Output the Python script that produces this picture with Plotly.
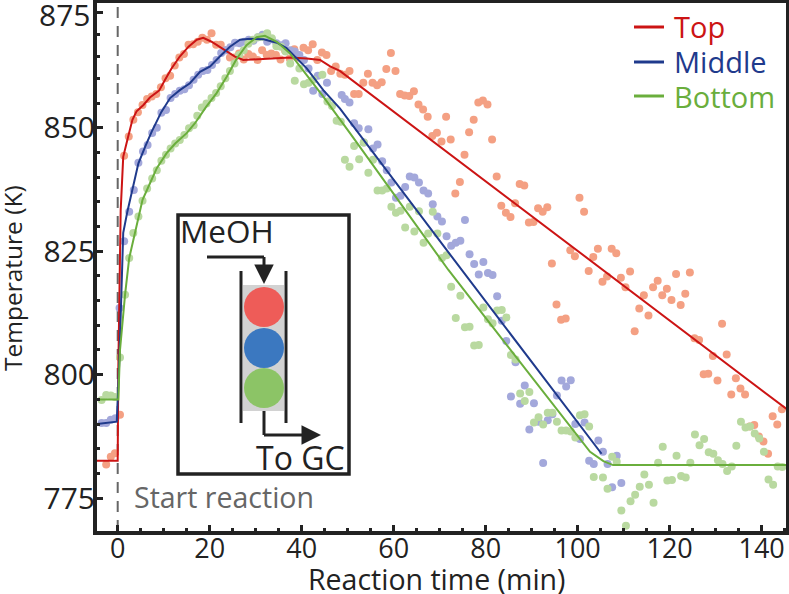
import plotly.graph_objects as go

W, H = 789, 594
L, R, T, B = 97, 786, 3, 531
FONT = "Open Sans"
DARK = "#222222"

# measured points
top_x = [-2.5, -1.5, -0.6, 0.5, 1.4, 2.4, 3.4, 4.4, 5.4, 6.4, 7.4, 8.4, 9.4, 10.4, 11.4, 12.4, 13.4, 14.4, 15.4, 16.4,
         17.4, 18.4, 19.4, 20.4, 21.4, 22.4, 23.4, 24.4, 25.4, 26.4, 27.4, 28.4, 29.4, 30.4, 31.4, 32.4, 33.4, 34.4,
         35.4, 36.4, 37.4, 38.4, 39.4, 40.4, 41.4, 42.4, 43.4, 44.4, 45.4, 46.4, 47.4, 48.4, 49.4, 50.4, 51.4, 52.4,
         53.4, 54.4, 55.4, 56.4, 57.4, 58.4, 59.4, 60.4, 61.4, 62.4, 63.4, 64.4, 65.4, 66.4, 67.4, 68.4, 69.4, 70.4,
         71.4, 72.4, 73.4, 74.4, 75.4, 76.4, 77.4, 78.4, 79.4, 80.4, 81.4, 82.4, 83.4, 84.4, 85.4, 86.4, 87.4, 88.4,
         89.4, 90.4, 91.4, 92.4, 93.4, 94.4, 95.4, 96.4, 97.4, 98.4, 99.4, 100.4, 101.4, 102.4, 103.4, 104.4, 105.4,
         106.4, 107.4, 108.4, 109.4, 110.4, 111.4, 112.4, 113.4, 114.4, 115.4, 116.4, 117.4, 118.4, 119.4, 120.4,
         121.4, 122.4, 123.4, 124.4, 125.4, 126.4, 127.4, 128.4, 129.4, 130.4, 131.4, 132.4, 133.4, 134.4, 135.4,
         136.4, 137.4, 138.4, 139.4, 140.4, 141.4, 142.4, 143.4, 144.4]
top_y = [781.8, 783.4, 784.1, 791.9, 844.3, 848.2, 851.6, 853.1, 854.6, 855.8, 856.3, 856.8, 858.2, 860.0, 860.5, 862.6,
         864.2, 864.9, 866.8, 866.9, 867.4, 868.2, 867.8, 869.1, 866.8, 866.8, 865.7, 864.2, 864.2, 865.0, 863.8, 864.9,
         864.4, 863.7, 865.7, 864.7, 865.0, 864.7, 863.8, 865.6, 864.0, 865.9, 864.2, 866.2, 865.7, 866.9, 863.7, 865.2,
         864.7, 861.5, 862.4, 860.9, 860.7, 861.5, 856.8, 856.8, 859.1, 860.9, 859.1, 858.6, 859.2, 861.9, 865.1, 861.5,
         856.8, 856.5, 856.4, 857.4, 854.7, 853.7, 852.2, 848.3, 849.0, 847.2, 852.2, 847.6, 836.7, 839.0, 844.5, 849.1,
         851.6, 855.1, 855.5, 854.7, 847.6, 840.1, 834.2, 832.8, 831.9, 834.7, 838.6, 838.3, 830.8, 830.9, 833.7, 833.0,
         833.9, 822.5, 814.2, 811.1, 811.4, 825.2, 824.0, 835.8, 833.0, 821.0, 823.8, 825.5, 818.8, 819.9, 825.5, 824.6,
         819.6, 817.7, 820.9, 808.8, 813.4, 816.1, 812.0, 817.7, 819.0, 816.1, 817.4, 815.1, 820.4, 814.1, 816.4, 820.7,
         807.4, 807.0, 800.1, 800.2, 803.8, 798.8, 810.3, 804.1, 796.0, 799.3, 797.2, 796.0, 789.5, 789.8, 787.5, 786.5,
         784.0, 791.6, 789.9, 793.0]

mid_x = [-3.5, -2.5, -1.5, -0.5, 0.4, 1.4, 2.5, 3.5, 4.5, 5.5, 6.5, 7.5, 8.5, 9.5, 10.5, 11.5, 12.5, 13.5, 14.5, 15.5,
         16.5, 17.5, 18.5, 19.5, 20.5, 21.5, 22.5, 23.5, 24.5, 25.5, 26.5, 27.5, 28.5, 29.5, 30.5, 31.5, 32.5, 33.5,
         34.5, 35.5, 36.5, 37.5, 38.5, 39.5, 40.5, 41.5, 42.5, 43.5, 44.5, 45.5, 48.7, 49.4, 50.4, 51.4, 52.4, 53.5,
         54.5, 55.5, 56.5, 57.5, 58.5, 59.5, 60.5, 61.5, 62.5, 63.5, 64.5, 65.5, 66.5, 67.5, 68.5, 69.5, 70.5, 71.5,
         72.5, 73.5, 74.5, 75.5, 76.5, 77.5, 78.5, 79.5, 80.5, 81.5, 82.5, 83.5, 84.5, 85.5, 86.5, 87.5, 88.5, 89.5,
         90.5, 91.5, 92.5, 93.5, 94.5, 95.5, 96.5, 97.5, 98.5, 99.5, 100.5, 101.5, 102.5, 103.5, 104.5, 105.5, 106.5,
         107.5, 108.5, 109.5]
mid_y = [790.2, 790.2, 790.9, 791.2, 813.5, 827.0, 833.0, 837.4, 842.9, 845.2, 846.5, 848.9, 850.0, 853.0, 853.6, 856.0,
         856.8, 857.5, 857.8, 858.6, 859.7, 860.7, 861.5, 861.7, 862.7, 863.7, 865.1, 865.7, 866.3, 867.2, 867.1, 867.4,
         867.8, 867.6, 868.3, 868.8, 867.4, 867.9, 867.1, 866.7, 867.1, 865.7, 865.4, 864.7, 863.7, 862.0, 857.5, 860.5,
         856.8, 859.1, 856.6, 855.8, 855.1, 850.9, 849.9, 847.0, 849.7, 845.8, 846.6, 843.2, 841.4, 838.9, 835.8, 836.2,
         838.0, 840.1, 839.9, 838.9, 837.3, 836.7, 834.5, 832.0, 831.0, 828.0, 826.1, 826.7, 827.1, 831.3, 824.4, 822.4,
         820.3, 822.8, 820.6, 820.2, 815.9, 810.9, 806.8, 795.6, 802.5, 794.1, 797.8, 788.9, 794.2, 790.5, 782.1, 790.8,
         792.0, 795.8, 798.8, 797.6, 798.9, 790.0, 787.0, 790.3, 782.6, 781.9, 786.7, 784.4, 781.9, 777.2, 783.6, 778.1]

bot_x = [-3.5, -2.5, -1.5, -0.6, 0.5, 1.6, 2.5, 3.4, 4.5, 5.4, 6.4, 7.5, 8.5, 9.5, 10.5, 11.5, 12.5, 13.5, 14.5, 15.5,
         16.5, 17.3, 18.3, 19.3, 20.4, 21.4, 22.4, 23.4, 24.4, 25.4, 26.4, 27.4, 28.4, 29.4, 30.5, 31.5, 32.5, 33.5,
         34.5, 35.5, 36.5, 37.5, 38.5, 39.5, 40.5, 41.5, 42.5, 44.5, 45.6, 46.6, 47.6, 48.5, 49.4, 50.4, 51.4, 52.5,
         53.5, 54.5, 55.5, 56.5, 57.5, 58.5, 59.5, 60.5, 61.5, 62.5, 63.5, 64.5, 65.5, 66.5, 67.5, 68.5, 69.5, 70.5,
         71.5, 72.5, 73.5, 74.5, 75.5, 76.5, 77.5, 78.5, 79.5, 80.5, 81.5, 82.5, 83.5, 84.5, 85.5, 86.5, 87.5, 88.5,
         89.5, 90.5, 91.5, 92.5, 93.5, 94.5, 95.5, 96.5, 97.5, 98.5, 99.5, 100.5, 101.5, 102.5, 103.5, 105.5, 106.5,
         107.5, 108.5, 109.5, 110.5, 111.5, 112.5, 113.5, 114.5, 115.5, 116.5, 117.5, 118.5, 119.5, 120.5, 121.5,
         122.5, 123.5, 124.5, 125.5, 126.5, 127.5, 128.5, 129.5, 130.5, 131.5, 132.5, 133.5, 134.5, 135.5, 136.5,
         137.5, 138.5, 139.5, 140.5, 141.5, 142.5, 143.5, 144.5]
bot_y = [794.9, 795.9, 795.8, 795.5, 803.5, 816.2, 823.6, 828.7, 832.0, 835.2, 837.7, 839.7, 841.4, 843.3, 844.5, 845.8,
         846.8, 847.5, 848.5, 849.9, 850.5, 852.4, 854.1, 854.9, 856.0, 857.0, 858.4, 860.0, 861.5, 863.0, 864.7, 865.7,
         867.0, 867.8, 868.3, 868.4, 869.1, 868.1, 866.5, 866.4, 865.4, 863.0, 859.5, 862.0, 858.8, 859.1, 859.7, 860.7,
         855.3, 854.4, 851.4, 851.2, 843.5, 842.1, 846.3, 843.6, 847.0, 840.9, 843.5, 837.3, 837.3, 837.7, 834.0, 832.8,
         833.2, 829.8, 834.0, 829.0, 833.1, 826.7, 828.6, 833.0, 828.6, 823.6, 824.2, 817.8, 811.5, 816.0, 809.6, 809.7,
         805.9, 806.0, 813.6, 811.2, 810.4, 813.0, 813.1, 811.6, 804.0, 803.1, 796.2, 794.7, 796.5, 790.3, 791.4, 789.9,
         792.3, 792.3, 790.5, 788.7, 788.7, 788.5, 787.3, 791.8, 792.0, 789.5, 779.3, 779.2, 776.9, 783.4, 782.4, 772.5,
         769.4, 774.4, 775.7, 777.3, 779.8, 777.7, 774.1, 782.2, 785.4, 778.6, 778.7, 783.6, 779.5, 779.2, 782.2, 787.9,
         785.7, 787.0, 784.3, 784.0, 782.7, 781.9, 780.5, 781.4, 785.6, 790.5, 789.3, 789.5, 788.1, 787.1, 784.4, 778.8,
         777.7, 781.4, 781.3]

# model curves
top_line_x = [-4.5, 0.0, 0.05, 0.14, 0.65, 1.2, 2.2, 3.2, 4.1, 5.6, 7.0, 9.0, 10.3, 11.7, 13.5, 15.4, 17.2, 18.6, 20.4,
              23.0, 25.5, 27.3, 30.2, 33.1, 37.5, 41.1, 44.0, 46.2, 48.3, 145.5]
top_line_y = [782.6, 782.6, 790.0, 801.7, 833.3, 844.1, 847.9, 851.6, 853.3, 854.6, 856.1, 857.5, 859.7, 862.0, 864.4,
              866.4, 867.8, 868.2, 867.4, 865.9, 864.4, 863.7, 863.8, 864.0, 864.2, 864.0, 863.7, 862.4, 861.5, 793.0]
mid_line_x = [-4.5, -0.2, 0.36, 1.2, 2.1, 4.5, 6.0, 7.4, 9.5, 11.4, 13.5, 15.7, 17.9, 20.1, 22.2, 24.4, 26.6, 28.8,
              31.7, 34.6, 36.7, 38.9, 41.1, 44.7, 48.3, 74.8, 105.2]
mid_line_y = [790.0, 790.5, 803.0, 828.7, 833.0, 842.8, 846.2, 849.2, 853.2, 856.0, 857.6, 859.0, 861.3, 862.4, 864.4,
              866.4, 867.8, 868.0, 867.9, 867.2, 866.1, 864.0, 862.0, 857.6, 853.9, 821.2, 784.0]
bot_line_x = [-4.5, 0.14, 0.5, 1.6, 2.5, 5.4, 7.0, 8.5, 10.6, 12.5, 15.0, 16.8, 19.3, 21.5, 23.7, 25.9, 28.0, 30.2, 32.0,
              34.6, 37.5, 41.1, 44.7, 50.5, 71.9, 84.6, 99.0, 102.7, 105.6, 107.7, 145.5]
bot_line_y = [795.0, 795.0, 805.0, 816.2, 823.6, 835.4, 838.7, 841.8, 844.8, 846.8, 848.9, 850.9, 854.3, 857.0, 860.3,
              864.0, 866.7, 868.3, 868.6, 867.4, 865.0, 860.7, 856.3, 848.9, 821.2, 806.0, 788.8, 784.4, 782.5, 781.7, 781.7]

x_ticks = [0, 20, 40, 60, 80, 100, 120, 140]
x_minor = [5, 10, 15, 25, 30, 35, 45, 50, 55, 65, 70, 75, 85, 90, 95, 105, 110, 115, 125, 130, 135, 145]
# the top of the source axis is squeezed: its "875" tick sits at 873.4 on the scale of the other ticks,
# plotly drops that label so close to the page edge, so the text is placed as an annotation
y_ticks = [775, 800, 825, 850, 873.4]
y_labels = ["775", "800", "825", "850", " "]
y_minor = [780, 785, 790, 795, 805, 810, 815, 820, 830, 835, 840, 845, 854.9, 860, 864.5, 868.9]

series_names = ["Top", "Middle", "Bottom"]
line_colors = ["#cc1414", "#1f3a8c", "#6aae3c"]
dot_colors = ["#f4a083", "#a3a8db", "#b9d9a0"]


def seg(x0, y0, x1, y1, color=DARK, width=3):
    return dict(type="line", xref="paper", yref="paper", x0=(x0 - L) / (R - L), x1=(x1 - L) / (R - L),
                y0=(B - y0) / (B - T), y1=(B - y1) / (B - T), line=dict(color=color, width=width))


def label(x, y, text, size, color=DARK, anchor="left", angle=0):
    return dict(xref="paper", yref="paper", x=(x - L) / (R - L), y=(B - y) / (B - T), text=text, showarrow=False,
                xanchor=anchor, yanchor="middle", xshift=-3, textangle=angle,
                font=dict(family=FONT, size=size, color=color))


def head(x, y, ax, ay):
    # arrow tip at x,y, tail offset in pixels
    return dict(xref="paper", yref="paper", x=(x - L) / (R - L), y=(B - y) / (B - T), axref="pixel", ayref="pixel",
                ax=ax, ay=ay, text="", showarrow=True, arrowhead=2, arrowsize=1.3, arrowwidth=3, arrowcolor=DARK)


def blob(x0, y0, x1, y1, kind, color):
    return dict(type=kind, xref="paper", yref="paper", x0=(x0 - L) / (R - L), x1=(x1 - L) / (R - L),
                y0=(B - y0) / (B - T), y1=(B - y1) / (B - T), fillcolor=color, line=dict(width=0))


fig = go.Figure()

for xs, ys, c in zip([top_x, mid_x, bot_x], [top_y, mid_y, bot_y], dot_colors):
    fig.add_trace(go.Scatter(x=xs, y=ys, mode="markers", marker=dict(size=8, color=c), showlegend=False))

for xs, ys, c in zip([top_line_x, mid_line_x, bot_line_x], [top_line_y, mid_line_y, bot_line_y], line_colors):
    fig.add_trace(go.Scatter(x=xs, y=ys, mode="lines", line=dict(color=c, width=2), showlegend=False))

shapes = [
    dict(type="line", xref="x", yref="paper", x0=0, x1=0, y0=0, y1=1, layer="below",
         line=dict(color="#666666", width=2, dash="11px,8px")),
    # inset: reactor sketch
    dict(type="rect", xref="paper", yref="paper", x0=(178 - L) / (R - L), x1=(349 - L) / (R - L),
         y0=(B - 474) / (B - T), y1=(B - 215) / (B - T), line=dict(color=DARK, width=3.5), fillcolor="white"),
    blob(243, 285, 284, 411, "rect", "#d2d2d2"),
    blob(244, 287, 284, 327, "circle", "#ee5c58"),
    blob(244, 328, 284, 368, "circle", "#3b78c0"),
    blob(244, 368, 284, 408, "circle", "#8cc466"),
    seg(241, 271, 241, 423),
    seg(286, 271, 286, 423),
    seg(207, 257, 264, 257),
    seg(264, 257, 264, 272),
    seg(264, 411, 264, 435),
    seg(264, 435, 308, 435),
]
for name_y, c in zip([27, 62, 96], line_colors):
    shapes.append(seg(634, name_y, 664, name_y, c, 3))

annotations = [
    label(181, 231, "MeOH", 31.5),
    label(257, 457, "To GC", 32),
    label(135, 497, "Start reaction", 28.5, "#666666"),
    label(95, 14, "875", 30, anchor="right"),
    label(439, 579, "Reaction time (min)", 28.5, anchor="center"),
    label(16, 278, "Temperature (K)", 24.5, anchor="center", angle=-90),
    head(264, 284, 0, -18),
    head(321, 435, -18, 0),
]
for name, name_y, c in zip(series_names, [27, 62, 96], line_colors):
    annotations.append(label(675, name_y, name, 29, c))

fig.update_layout(
    width=W, height=H, margin=dict(l=L, r=W - R, t=T, b=H - B),
    paper_bgcolor="white", plot_bgcolor="white", showlegend=False,
    font=dict(family=FONT, color=DARK),
    shapes=shapes, annotations=annotations,
    xaxis=dict(range=[-4.5, 145.3], showgrid=False, zeroline=False, showline=True, mirror=True, automargin=False,
               linecolor=DARK, linewidth=4, ticks="inside", ticklen=6, tickwidth=3, tickcolor=DARK,
               tickvals=x_ticks, tickfont=dict(size=27, family=FONT), ticklabelstandoff=-9,
               minor=dict(tickmode="array", tickvals=x_minor, ticks="inside", ticklen=3, tickwidth=3, tickcolor=DARK)),
    yaxis=dict(range=[768.36, 875.24], showgrid=False, zeroline=False, showline=True, mirror=True, automargin=False,
               linecolor=DARK, linewidth=4, ticks="inside", ticklen=6, tickwidth=3, tickcolor=DARK,
               tickvals=y_ticks, ticktext=y_labels, tickfont=dict(size=30, family=FONT), ticklabelstandoff=-8,
               minor=dict(tickmode="array", tickvals=y_minor, ticks="inside", ticklen=3, tickwidth=3, tickcolor=DARK)),
)

# the page's default body margin would shift the 789x594 figure
fig.write_html("out.html", config=dict(displayModeBar=False), post_script="document.body.style.margin='0'")
